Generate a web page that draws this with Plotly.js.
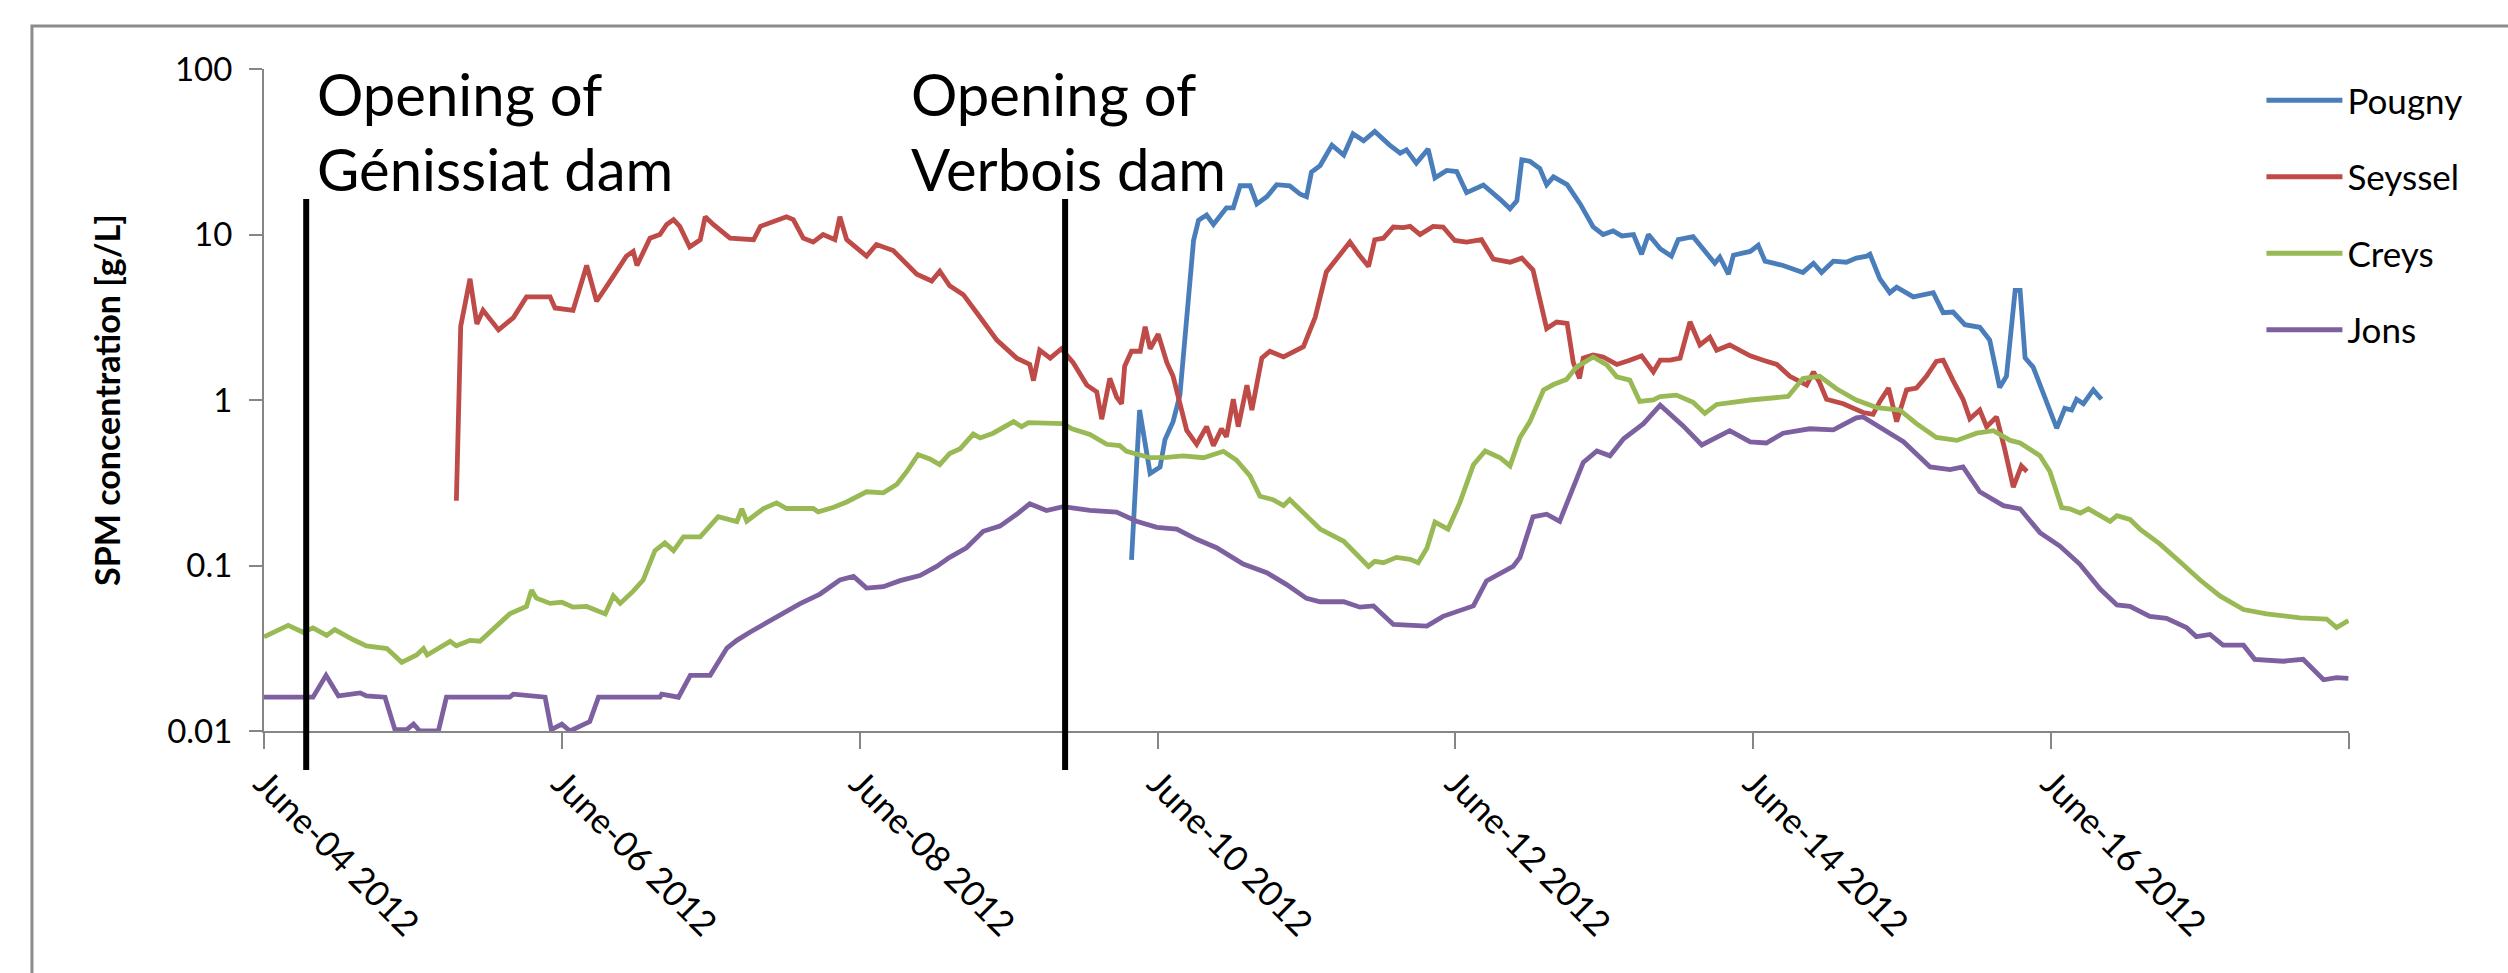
<!DOCTYPE html>
<html>
<head>
<meta charset="utf-8">
<script src="https://cdn.plot.ly/plotly-3.0.1.min.js"></script>
<style>
  html, body { margin: 0; padding: 0; background: #fff; }
  #chart { width: 2508px; height: 973px; }
</style>
</head>
<body>
<div id="chart"></div>
<script>
// ---- data (hours since 2012-06-04 00:00, SPM concentration in g/L) ----
const seriesNames = ['Pougny', 'Seyssel', 'Creys', 'Jons'];
const seriesColors = ['#4A7EBB', '#BE4B48', '#98B954', '#7D60A0'];

const pougnyHours = [139.8,141.1,142.8,144.4,145.2,146.5,147.6,148.7,149.8,150.6,151.9,153,154.1,155.1,156.2,157.3,158.9,160,161.6,163.2,165.3,167,168,168.8,170.2,172.1,174,175.5,177.2,179,181.4,183.1,184.1,185.7,187.6,188.7,190.6,192.2,193.8,196.5,199.2,200.8,201.9,202.7,204,205.6,206.7,207.8,210,212.1,214.2,215.8,217.4,218.8,220.7,222,223.1,225,226.8,227.9,230.3,233.8,234.6,236,236.8,239.5,240.8,241.9,244.8,248,249.7,251,252.9,255,256.6,258.3,258.8,260.4,262,263.1,265.8,269,270.6,272.2,274.1,276.5,278.1,279.7,280.8,282.2,283,283.8,285.1,287.3,288.9,290.2,291.3,292.1,293.2,294.8,296.1];
const pougnyValues = [0.108,0.87,0.36,0.394,0.577,0.74,1.07,2.96,9.2,12.2,13.1,11.5,13.1,14.5,14.5,19.7,19.7,15.3,16.9,20,19.7,17.5,16.9,23.8,26.1,34.7,30.2,40.6,36.8,41.9,34.7,31,32.5,27,32.8,22,24.4,24,17.9,19.9,16.3,14.3,16,28.3,27.7,25,20,22.3,20,15.3,11.1,10,10.5,9.8,10,7.6,10,8.2,7.4,9.3,9.7,6.7,7.3,5.75,7.5,7.9,8.6,6.9,6.5,5.9,6.7,5.9,6.9,6.8,7.2,7.4,7.6,5.4,4.45,4.8,4.2,4.45,3.37,3.4,2.85,2.75,2.3,1.19,1.39,4.6,4.6,1.8,1.58,0.95,0.675,0.89,0.87,1.01,0.95,1.15,1.01];

const seysselHours = [31.0,31.7,33.2,34.3,35.3,37.8,40.2,42.3,44.5,46.1,46.9,49.8,52,53.6,55.8,58.4,59.5,60.1,62.2,63.8,64.9,66,67,68.6,70.3,71.1,72.4,75.1,78.9,80,84.2,85.3,86.9,88.5,90.1,92,92.8,93.9,97.1,98.7,101.4,105.2,107.6,108.9,110.5,112.7,115.4,118.1,121.3,123.4,124,125,126.7,128.5,130.4,132.6,134.2,135,136.3,137.4,138.2,138.7,139.8,141.2,142,142.8,144.1,145.5,146.5,148.7,150.3,151.9,153,154.3,155.1,156.2,157,158.4,159.2,160.8,162.1,164.3,167.5,169.4,171.2,172.9,175,176.4,178,179,180.4,182,183.6,184.7,186.3,188.4,190,191.9,193.8,196.2,198.1,200.8,202.7,204.5,206.2,206.7,208.3,210,211,212,212.6,214.2,215.8,218,220.1,222,223.9,225,226.6,228.2,229.8,231.4,233,234.1,236.2,237.8,239.5,241.6,243.8,245.9,248.6,249.7,250.7,251.8,254.5,257.7,259.3,260.4,261.8,263.1,264.7,266.3,267.9,269.5,270.6,272.2,273.8,274.9,276.5,277.6,279.2,280.5,281.9,283.2,284.1];
const seysselValues = [0.246,2.79,5.4,2.88,3.48,2.65,3.15,4.2,4.2,4.2,3.6,3.48,6.5,3.95,5.24,7.4,7.9,6.5,9.5,10,11.5,12.3,11.2,8.4,9.3,12.8,11.5,9.5,9.3,11.2,12.8,12.3,9.5,9.0,10,9.3,12.8,9.3,7.4,8.7,8.0,5.75,5.24,6.0,4.9,4.33,3.16,2.3,1.79,1.64,1.31,2.0,1.79,2.04,1.68,1.23,1.12,0.766,1.35,1.04,0.95,1.6,1.97,1.97,2.77,2.04,2.5,1.68,1.39,0.655,0.54,0.69,0.53,0.67,0.6,1.01,0.69,1.23,0.87,1.79,1.97,1.82,2.1,3.16,5.94,7.2,9.0,7.6,6.4,9.3,9.5,11.1,11,11.2,10,11.2,11.1,9.2,9.0,9.3,7.1,6.8,7.2,6.1,3.37,2.7,2.96,2.9,1.68,1.35,1.79,1.87,1.82,1.64,1.74,1.85,1.48,1.74,1.74,1.79,2.97,2.15,2.4,2.0,2.15,2.0,1.85,1.74,1.64,1.39,1.23,1.48,1.27,1.01,0.95,0.84,0.82,0.98,1.18,0.74,1.15,1.18,1.39,1.71,1.74,1.31,1.01,0.77,0.87,0.69,0.79,0.508,0.297,0.4,0.37];

const creysHours = [0,3.9,6.3,7.9,10.1,11.4,14.4,16.5,19.8,22.2,24.6,25.7,26.3,28.4,30,31,33.2,34.8,37.5,39.6,42.3,43.1,43.9,46.1,48,49.8,52,53.6,55,56.3,57.4,59.5,61.1,63,64.6,66,67.6,70.3,73.2,76.2,77,77.8,80.5,82.6,84.2,88.5,89.3,91.7,93.9,97.1,99.8,102,103.6,105.4,107.3,108.9,110.5,112.2,114.3,115.4,117.5,120.8,122.1,123.2,128.8,130.2,133.1,135.8,137.9,139,142.8,145.5,148.1,151.4,154.6,156.7,158.9,160.5,162.6,164.3,165.3,168.6,170.2,174,176.1,178,179,180.4,182.5,184.7,186,187.4,188.7,190.8,192.7,194.9,196.8,199.2,200.8,202.4,204,206.2,207.8,209.9,211.5,214.2,216.4,218,220.1,221.7,223.9,225,227.6,230.3,232.2,234.1,239.5,245.6,248,250.7,253.4,256.6,259.9,263.6,266.3,269.5,272.8,276,278.7,281.4,283,286.2,287.8,289.7,291,292.7,294,297.5,298.6,300.7,302.3,305.5,308.8,312,315.2,319,322.7,328.1,332.4,334,335.9];
const creysValues = [0.037,0.0435,0.0395,0.042,0.0378,0.041,0.0356,0.0327,0.0315,0.026,0.0288,0.0315,0.0288,0.0321,0.0348,0.0327,0.0353,0.0349,0.0435,0.051,0.0566,0.071,0.0635,0.059,0.06,0.056,0.0566,0.054,0.051,0.0655,0.059,0.07,0.0817,0.123,0.137,0.123,0.149,0.149,0.197,0.184,0.22,0.185,0.221,0.239,0.221,0.221,0.211,0.224,0.242,0.279,0.275,0.31,0.37,0.468,0.44,0.407,0.475,0.508,0.622,0.59,0.63,0.74,0.69,0.73,0.72,0.67,0.62,0.54,0.53,0.49,0.448,0.45,0.46,0.448,0.49,0.434,0.348,0.262,0.25,0.23,0.25,0.19,0.166,0.14,0.116,0.0987,0.106,0.104,0.112,0.109,0.104,0.127,0.183,0.166,0.239,0.407,0.492,0.448,0.4,0.594,0.74,1.15,1.24,1.33,1.58,1.82,1.63,1.38,1.32,0.98,1.0,1.05,1.07,0.97,0.83,0.94,1.0,1.05,1.35,1.39,1.17,1.0,0.9,0.87,0.72,0.594,0.57,0.63,0.653,0.57,0.55,0.46,0.37,0.224,0.22,0.207,0.22,0.185,0.2,0.19,0.166,0.135,0.105,0.0817,0.0655,0.0542,0.051,0.0483,0.0475,0.0422,0.0465];

const jonsHours = [0,7.9,10,12,15.5,16.5,19.5,21.1,23,24.1,25.1,28.1,29.4,39.6,40.2,45.3,46.3,48,49.3,52.5,53.9,63.8,64.1,66.8,68.7,71.9,74.6,76.2,78.3,81,83.2,86.4,89.6,92.8,95,97.1,99.8,102.5,105.7,108.4,110.5,113.2,115.9,118.6,121.3,123.4,126.1,128.8,133.1,137.4,140.6,143.9,147.1,150.3,153.5,157.8,161.6,164.8,168,170.2,174,176.6,178.8,182,187.4,190,194.9,197,201.3,202.4,204.5,206.7,208.8,212.6,214.8,216.9,219.1,222.3,225,228.7,231.7,236.2,239.5,242.1,244.8,249.1,252.9,256.6,257.7,260.9,264.2,268.5,271.7,273.8,276.5,280.3,283,286.2,289.4,292.6,295.9,298.6,300.7,303.9,306.6,309.8,311.4,313.6,315.7,319,320.8,325.4,328.6,331.9,334,335.9];
const jonsValues = [0.016,0.016,0.0217,0.0163,0.017,0.0163,0.016,0.0102,0.0102,0.011,0.01,0.01,0.016,0.016,0.0167,0.016,0.0102,0.011,0.01,0.0114,0.016,0.016,0.0167,0.016,0.0217,0.0217,0.0317,0.0353,0.0395,0.0449,0.0497,0.0589,0.0672,0.0817,0.0858,0.073,0.0744,0.081,0.087,0.0987,0.112,0.128,0.161,0.173,0.204,0.236,0.215,0.227,0.215,0.21,0.185,0.17,0.166,0.144,0.128,0.102,0.0904,0.0767,0.0633,0.0604,0.0604,0.056,0.057,0.044,0.043,0.0493,0.057,0.0807,0.0987,0.112,0.197,0.204,0.185,0.42,0.492,0.46,0.583,0.72,0.93,0.697,0.535,0.653,0.559,0.55,0.63,0.67,0.66,0.78,0.79,0.67,0.56,0.394,0.38,0.394,0.279,0.23,0.22,0.158,0.131,0.102,0.072,0.0578,0.0567,0.0493,0.048,0.0422,0.0372,0.0383,0.033,0.033,0.0271,0.0264,0.0271,0.0204,0.021,0.0208];

// dam openings (hours since 2012-06-04 00:00) and their labels
const eventHours = [6.8, 129.1];
const eventLabels = ['Opening of<br>Génissiat dam', 'Opening of<br>Verbois dam'];

const yTickVals = [0.01, 0.1, 1, 10, 100];
const yTickText = ['0.01', '0.1', '1', '10', '100'];
const yTitle = 'SPM concentration [g/L]';

// ---- helpers ----
const T0 = Date.UTC(2012, 5, 4, 0, 0, 0);
function toDate(h) {
  const d = new Date(T0 + Math.round(h * 3600) * 1000);
  const p = n => String(n).padStart(2, '0');
  return d.getUTCFullYear() + '-' + p(d.getUTCMonth() + 1) + '-' + p(d.getUTCDate()) +
    ' ' + p(d.getUTCHours()) + ':' + p(d.getUTCMinutes()) + ':' + p(d.getUTCSeconds());
}

const hoursList = [pougnyHours, seysselHours, creysHours, jonsHours];
const valuesList = [pougnyValues, seysselValues, creysValues, jonsValues];

const FONT = 'Lato, "Open Sans", sans-serif';

const traces = seriesNames.map((name, i) => ({
  type: 'scatter',
  mode: 'lines',
  name: name,
  legendgroup: name,
  x: hoursList[i].map(toDate),
  y: valuesList[i],
  line: { color: seriesColors[i], width: 4.8 },
  hoverinfo: 'x+y+name'
}));

const shapes = [
  // outer frame of the figure (only top and left edges fall on the canvas)
  { type: 'rect', xref: 'paper', yref: 'paper', x0: -0.1113, x1: 2.0, y0: -1.0, y1: 1.065,
    line: { color: '#8c8c8c', width: 3 }, fillcolor: 'rgba(0,0,0,0)', layer: 'below' }
].concat(eventHours.map(h => ({
  type: 'line', xref: 'x', yref: 'paper', x0: toDate(h), x1: toDate(h), y0: -0.059, y1: 0.8036,
  line: { color: '#000000', width: 6 }
})));

const annXs = [0.0245, 0.3094];
const annotations = eventLabels.map((t, i) => ({
  text: t, xref: 'paper', yref: 'paper', x: annXs[i], y: 1.018,
  xanchor: 'left', yanchor: 'top', align: 'left', showarrow: false,
  font: { family: FONT, size: 58, color: '#000000' }
}));

const layout = {
  width: 2508, height: 973,
  margin: { l: 264, r: 159, t: 69, b: 242 },
  paper_bgcolor: '#ffffff', plot_bgcolor: '#ffffff',
  font: { family: FONT, color: '#000000' },
  showlegend: true,
  legend: {
    x: 0.958, xanchor: 'left', y: 0.997, yanchor: 'top',
    font: { family: FONT, size: 35, color: '#000000' },
    bgcolor: 'rgba(255,255,255,0)', borderwidth: 0,
    tracegroupgap: 28, itemwidth: 76, traceorder: 'grouped'
  },
  xaxis: {
    type: 'date',
    range: ['2012-06-04 00:00:00', '2012-06-18 00:00:00'],
    tick0: '2012-06-04', dtick: 2 * 86400000,
    tickformat: '%B-%d %Y',
    tickangle: 45,
    tickfont: { family: FONT, size: 35, color: '#000000' },
    ticks: 'outside', ticklen: 16, tickwidth: 2, tickcolor: '#868686',
    showline: true, linecolor: '#868686', linewidth: 2,
    showgrid: false, zeroline: false
  },
  yaxis: {
    type: 'log',
    range: [-2, 2],
    tickvals: yTickVals, ticktext: yTickText,
    tickfont: { family: FONT, size: 33, color: '#000000' },
    ticks: 'outside', ticklen: 13, tickwidth: 2, tickcolor: '#868686',
    ticklabelstandoff: 10,
    showline: true, linecolor: '#868686', linewidth: 2,
    showgrid: false, zeroline: false,
    title: { text: yTitle, font: { family: FONT, size: 34, color: '#000000', weight: 'bold' }, standoff: 36 }
  },
  shapes: shapes,
  annotations: annotations
};

Plotly.newPlot('chart', traces, layout, { displayModeBar: false, staticPlot: true });
</script>
</body>
</html>
